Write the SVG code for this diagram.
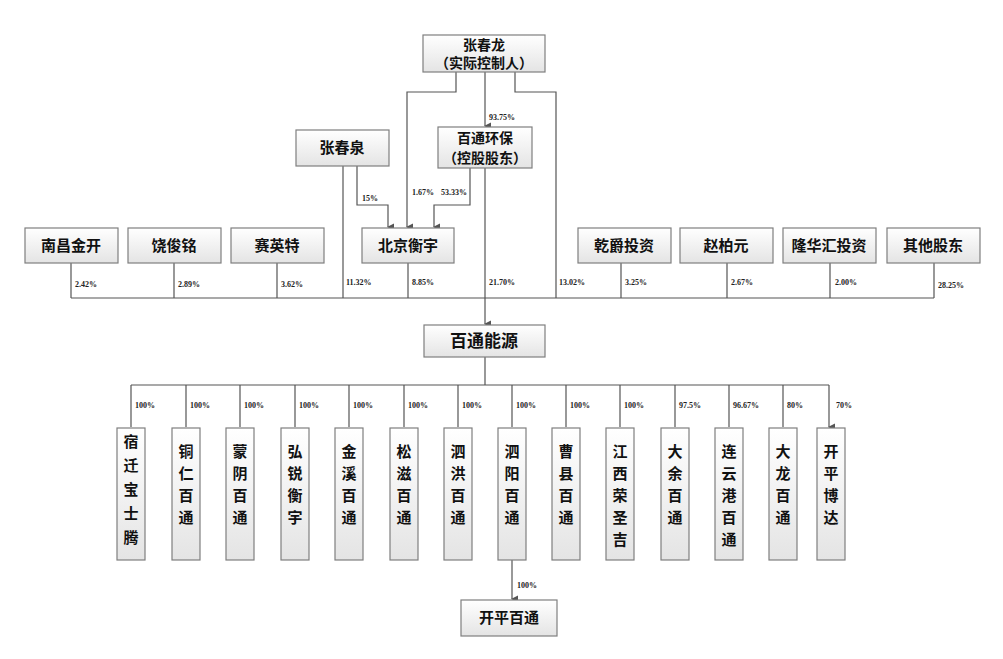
<svg xmlns="http://www.w3.org/2000/svg" width="1003" height="659" viewBox="0 0 1003 659">
<style>
.b{fill:url(#g);stroke:#7f7f7f;stroke-width:1.2}
.t{font-family:"Noto Sans CJK SC",sans-serif;font-weight:bold;font-size:15px;text-anchor:middle;fill:#111}
.s{font-size:14px}
.v{font-family:"Noto Sans CJK SC",sans-serif;font-weight:bold;font-size:15px;text-anchor:middle;fill:#111}
.p{font-family:"Liberation Serif",serif;font-weight:bold;font-size:8px;fill:#222}
.l{fill:none;stroke:#555;stroke-width:1.2}
</style>
<defs>
<linearGradient id="g" x1="0" y1="0" x2="0" y2="1"><stop offset="0" stop-color="#ffffff"/><stop offset="1" stop-color="#e4e4e4"/></linearGradient>
<marker id="a" markerWidth="6" markerHeight="6" refX="3" refY="5" orient="auto-start-reverse" viewBox="0 0 6 6"><path d="M0,0 L6,0 L3,6z" fill="#555"/></marker>
</defs>
<rect width="1003" height="659" fill="#fff"/>
<g id="connectors">
<path class="l" d="M456,72V92H407V227" marker-end="url(#a)"/>
<path class="l" d="M485,72V126" marker-end="url(#a)"/>
<path class="l" d="M515,72V92H556V298"/>
<path class="l" d="M343,166V298"/>
<path class="l" d="M357,166V205H388V227" marker-end="url(#a)"/>
<path class="l" d="M470,168V205H434V227" marker-end="url(#a)"/>
<path class="l" d="M485,168V298"/>
<path class="l" d="M408,263V298"/>
<path class="l" d="M71,263V298M174,263V298M277,263V298M621,263V298M727,263V298M830,263V298M934,263V298M71,298H934"/>
<path class="l" d="M485,298V324" marker-end="url(#a)"/>
<path class="l" d="M485,357V385M131,385H829"/>
<path class="l" d="M131,385V427M186,385V427M240,385V427M295,385V427M349,385V427M404,385V427M458,385V427M512,385V427M566,385V427M620,385V427M675,385V427M729,385V427M783,385V427M829,385V427" marker-end="url(#a)"/>
<path class="l" d="M512,560V599" marker-end="url(#a)"/>
</g>
<g class="p">
<text x="489" y="120">93.75%</text><text x="362" y="201">15%</text><text x="412" y="195">1.67%</text><text x="441" y="195">53.33%</text>
<text x="75" y="287">2.42%</text><text x="178" y="287">2.89%</text><text x="281" y="287">3.62%</text><text x="346" y="285">11.32%</text><text x="412" y="285">8.85%</text><text x="489" y="285">21.70%</text><text x="559" y="285">13.02%</text><text x="625" y="285">3.25%</text><text x="731" y="285">2.67%</text><text x="835" y="285">2.00%</text><text x="938" y="288">28.25%</text>
<text x="135" y="408">100%</text><text x="190" y="408">100%</text><text x="244" y="408">100%</text><text x="299" y="408">100%</text><text x="353" y="408">100%</text><text x="408" y="408">100%</text><text x="462" y="408">100%</text><text x="516" y="408">100%</text><text x="570" y="408">100%</text><text x="624" y="408">100%</text><text x="679" y="408">97.5%</text><text x="733" y="408">96.67%</text><text x="787" y="408">80%</text><text x="836" y="408">70%</text>
<text x="517" y="588">100%</text>
</g>
<g id="n1"><rect class="b" x="423" y="35" width="122" height="37"/><text class="t s" x="484" y="50">张春龙</text><text class="t s" x="484" y="68">（实际控制人）</text></g>
<g id="n2"><rect class="b" x="296" y="130" width="93" height="36"/><text class="t" x="342" y="153">张春泉</text></g>
<g id="n3"><rect class="b" x="438" y="127" width="94" height="41"/><text class="t s" x="485" y="143">百通环保</text><text class="t s" x="485" y="163">（控股股东）</text></g>
<g id="n4"><rect class="b" x="362" y="228" width="92" height="35"/><text class="t" x="408" y="251">北京衡宇</text></g>
<g id="n5"><rect class="b" x="25" y="228" width="93" height="35"/><text class="t" x="71" y="251">南昌金开</text></g>
<g id="n6"><rect class="b" x="128" y="228" width="93" height="35"/><text class="t" x="174" y="251">饶俊铭</text></g>
<g id="n7"><rect class="b" x="231" y="228" width="93" height="35"/><text class="t" x="277" y="251">赛英特</text></g>
<g id="n8"><rect class="b" x="578" y="228" width="93" height="35"/><text class="t" x="624" y="251">乾爵投资</text></g>
<g id="n9"><rect class="b" x="680" y="228" width="93" height="35"/><text class="t" x="726" y="251">赵柏元</text></g>
<g id="n10"><rect class="b" x="783" y="228" width="93" height="35"/><text class="t" x="829" y="251">隆华汇投资</text></g>
<g id="n11"><rect class="b" x="887" y="228" width="93" height="35"/><text class="t" x="933" y="251">其他股东</text></g>
<g id="n12"><rect class="b" x="424" y="325" width="121" height="32"/><text class="t" x="484" y="347" style="font-size:17px">百通能源</text></g>
<g id="c1"><rect class="b" x="117" y="428" width="28" height="132"/><text class="v" x="131" y="447">宿<tspan x="131" dy="24">迁</tspan><tspan x="131" dy="24">宝</tspan><tspan x="131" dy="24">士</tspan><tspan x="131" dy="24">腾</tspan></text></g>
<g id="c2"><rect class="b" x="172" y="428" width="28" height="132"/><text class="v" x="186" y="457">铜<tspan x="186" dy="22">仁</tspan><tspan x="186" dy="22">百</tspan><tspan x="186" dy="22">通</tspan></text></g>
<g id="c3"><rect class="b" x="226" y="428" width="28" height="132"/><text class="v" x="240" y="457">蒙<tspan x="240" dy="22">阴</tspan><tspan x="240" dy="22">百</tspan><tspan x="240" dy="22">通</tspan></text></g>
<g id="c4"><rect class="b" x="281" y="428" width="28" height="132"/><text class="v" x="295" y="457">弘<tspan x="295" dy="22">锐</tspan><tspan x="295" dy="22">衡</tspan><tspan x="295" dy="22">宇</tspan></text></g>
<g id="c5"><rect class="b" x="335" y="428" width="28" height="132"/><text class="v" x="349" y="457">金<tspan x="349" dy="22">溪</tspan><tspan x="349" dy="22">百</tspan><tspan x="349" dy="22">通</tspan></text></g>
<g id="c6"><rect class="b" x="390" y="428" width="28" height="132"/><text class="v" x="404" y="457">松<tspan x="404" dy="22">滋</tspan><tspan x="404" dy="22">百</tspan><tspan x="404" dy="22">通</tspan></text></g>
<g id="c7"><rect class="b" x="444" y="428" width="28" height="132"/><text class="v" x="458" y="457">泗<tspan x="458" dy="22">洪</tspan><tspan x="458" dy="22">百</tspan><tspan x="458" dy="22">通</tspan></text></g>
<g id="c8"><rect class="b" x="498" y="428" width="28" height="132"/><text class="v" x="512" y="457">泗<tspan x="512" dy="22">阳</tspan><tspan x="512" dy="22">百</tspan><tspan x="512" dy="22">通</tspan></text></g>
<g id="c9"><rect class="b" x="552" y="428" width="28" height="132"/><text class="v" x="566" y="457">曹<tspan x="566" dy="22">县</tspan><tspan x="566" dy="22">百</tspan><tspan x="566" dy="22">通</tspan></text></g>
<g id="c10"><rect class="b" x="606" y="428" width="28" height="132"/><text class="v" x="620" y="457">江<tspan x="620" dy="22">西</tspan><tspan x="620" dy="22">荣</tspan><tspan x="620" dy="22">圣</tspan><tspan x="620" dy="22">吉</tspan></text></g>
<g id="c11"><rect class="b" x="661" y="428" width="28" height="132"/><text class="v" x="675" y="457">大<tspan x="675" dy="22">余</tspan><tspan x="675" dy="22">百</tspan><tspan x="675" dy="22">通</tspan></text></g>
<g id="c12"><rect class="b" x="715" y="428" width="28" height="132"/><text class="v" x="729" y="457">连<tspan x="729" dy="22">云</tspan><tspan x="729" dy="22">港</tspan><tspan x="729" dy="22">百</tspan><tspan x="729" dy="22">通</tspan></text></g>
<g id="c13"><rect class="b" x="769" y="428" width="28" height="132"/><text class="v" x="783" y="457">大<tspan x="783" dy="22">龙</tspan><tspan x="783" dy="22">百</tspan><tspan x="783" dy="22">通</tspan></text></g>
<g id="c14"><rect class="b" x="817" y="428" width="28" height="132"/><text class="v" x="831" y="457">开<tspan x="831" dy="22">平</tspan><tspan x="831" dy="22">博</tspan><tspan x="831" dy="22">达</tspan></text></g>
<g id="n13"><rect class="b" x="461" y="600" width="96" height="36"/><text class="t" x="509" y="623">开平百通</text></g>
</svg>
